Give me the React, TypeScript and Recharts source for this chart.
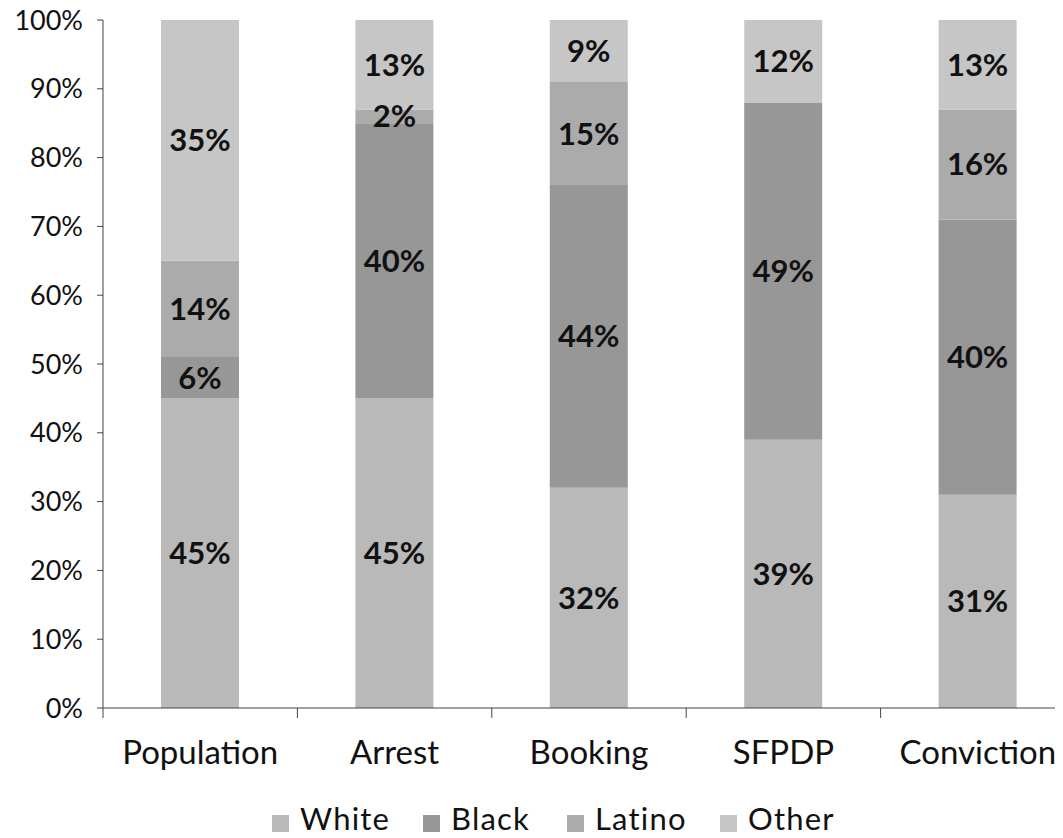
import React from 'react';
import { BarChart, Bar, XAxis, YAxis, Legend, LabelList } from 'recharts';

const categories = ['Population', 'Arrest', 'Booking', 'SFPDP', 'Conviction'];
const whiteValues = [45, 45, 32, 39, 31];
const blackValues = [6, 40, 44, 49, 40];
const latinoValues = [14, 2, 15, 0, 16];
const otherValues = [35, 13, 9, 12, 13];
const yTicks = [0, 10, 20, 30, 40, 50, 60, 70, 80, 90, 100];

const seriesNames = ['White', 'Black', 'Latino', 'Other'];
const seriesColors: Record<string, string> = {
  White: '#b9b9b9',
  Black: '#979797',
  Latino: '#ababab',
  Other: '#c6c6c6',
};

const data = categories.map((c, i) => ({
  name: c,
  White: whiteValues[i],
  Black: blackValues[i],
  Latino: latinoValues[i],
  Other: otherValues[i],
}));

const CHART_W = 1067;
const CHART_H = 838;
const Y_W = 95;
const PLOT_W = CHART_W - Y_W;
const BAND = PLOT_W / categories.length;
const FONT = 'Lato, "DejaVu Sans", sans-serif';
const LEGEND_ITEM_W = [151, 144, 153, 120];

const XTick = (props: any) => {
  const { x, y, payload, index } = props;
  const left = x - BAND / 2;
  return (
    <g>
      <line x1={left} x2={left} y1={y} y2={y + 10} stroke="#444" strokeWidth={1} />
      {index === categories.length - 1 && (
        <line x1={x + BAND / 2} x2={x + BAND / 2} y1={y} y2={y + 10} stroke="#444" strokeWidth={1} />
      )}
      <text x={x} y={y + 56} textAnchor="middle" fontSize={33} fontFamily={FONT} fill="#111">
        {payload.value}
      </text>
    </g>
  );
};

const LegendContent = () => (
  <div
    style={{
      display: 'flex',
      alignItems: 'center',
      height: 36,
      lineHeight: '36px',
      paddingLeft: 264,
      fontFamily: FONT,
      fontSize: 31,
      letterSpacing: 1.2,
      color: '#111',
      whiteSpace: 'nowrap',
    }}
  >
    {seriesNames.map((n, i) => (
      <div key={n} style={{ display: 'flex', alignItems: 'center', width: LEGEND_ITEM_W[i], flex: 'none' }}>
        <span
          style={{
            display: 'inline-block',
            width: 17,
            height: 17,
            background: seriesColors[n],
            marginRight: 11,
            position: 'relative',
            top: 5,
          }}
        />
        {n}
      </div>
    ))}
  </div>
);

const fmt = (v: any) => (v ? `${v}%` : '');

export default function App() {
  return (
    <div style={{ marginTop: -8, width: 1055, height: CHART_H, overflow: 'hidden' }}>
      <style>{'body{overflow:hidden}'}</style>
      <BarChart
        width={CHART_W}
        height={CHART_H}
        data={data}
        margin={{ top: 20, right: 0, left: 0, bottom: 2 }}
        barSize={78}
      >
        <XAxis
          dataKey="name"
          height={92}
          tickSize={0}
          tickMargin={0}
          tickLine={false}
          axisLine={{ stroke: '#444', strokeWidth: 1 }}
          tick={<XTick />}
          interval={0}
        />
        <YAxis
          width={Y_W}
          domain={[0, 100]}
          ticks={yTicks}
          tickFormatter={(v: number) => `${v}%`}
          tickSize={6}
          tickMargin={14}
          tickLine={{ stroke: '#444' }}
          axisLine={{ stroke: '#444', strokeWidth: 1 }}
          tick={{ fontSize: 27, fontFamily: FONT, fill: '#111' }}
          interval={0}
        />
        <Legend verticalAlign="bottom" content={<LegendContent />} wrapperStyle={{ left: 0, width: CHART_W }} />
        {seriesNames.map((n) => (
          <Bar key={n} dataKey={n} stackId="a" fill={seriesColors[n]} isAnimationActive={false}>
            <LabelList
              dataKey={n}
              position="center"
              formatter={fmt}
              style={{ fontSize: 31, fontFamily: FONT, fontWeight: 700, fill: '#111' }}
            />
          </Bar>
        ))}
      </BarChart>
    </div>
  );
}
